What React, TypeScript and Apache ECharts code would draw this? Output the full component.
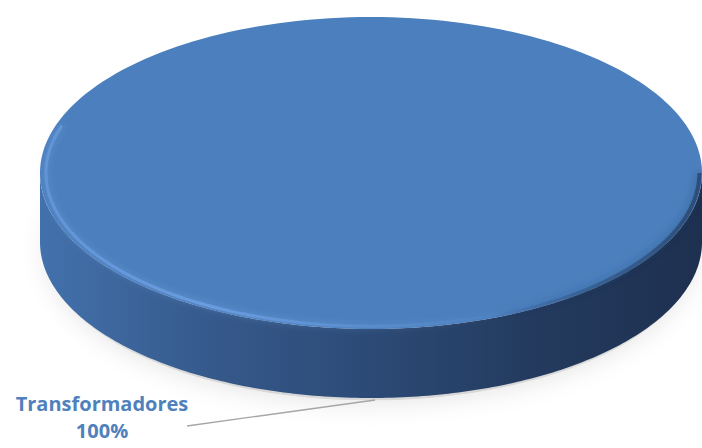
import React, { useEffect, useRef } from 'react';
import * as echarts from 'echarts';

const categories: string[] = ['Transformadores'];
const values: number[] = [100];
const labelColor = '#4f81bd';

export default function App() {
  const ref = useRef<HTMLDivElement>(null);
  useEffect(() => {
    const chart = echarts.init(ref.current as HTMLDivElement, null, { renderer: 'svg' });
    const total = values.reduce((a, b) => a + b, 0);
    const cum: number[] = [0];
    values.forEach((v) => cum.push(cum[cum.length - 1] + v));
    const TAU = Math.PI * 2;
    const CX = 371, CY = 173, RX = 331, RY = 156, D = 69;
    const pt = (t: number, dy = 0, s = 1) => [CX + RX * s * Math.sin(t), CY - RY * s * Math.cos(t) + dy];
    const arc = (a0: number, a1: number, dy = 0, s = 1, n = 200) => {
      const pts: number[][] = [];
      for (let i = 0; i <= n; i++) pts.push(pt(a0 + ((a1 - a0) * i) / n, dy, s));
      return pts;
    };

    const renderItem = (params: any, api: any) => {
      const i = params.dataIndex;
      const a0 = (cum[i] / total) * TAU;
      const a1 = (cum[i + 1] / total) * TAU;
      const full = a1 - a0 >= TAU - 1e-6;
      const children: any[] = [];
      if (i === 0) {
        children.push({
          type: 'polygon',
          shape: { points: arc(0, TAU, D + 4, 0.99) },
          style: { fill: 'rgba(150,150,150,0.3)', shadowBlur: 22, shadowColor: 'rgba(0,0,0,0.3)', shadowOffsetY: 4 },
        });
      }
      const s0 = Math.max(a0, Math.PI / 2);
      const s1 = Math.min(a1, (3 * Math.PI) / 2);
      if (s1 > s0) {
        const top = arc(s0, s1, 0);
        const bot = arc(s1, s0, D);
        children.push({
          type: 'polygon',
          shape: { points: top.concat(bot) },
          style: {
            fill: new echarts.graphic.LinearGradient(0, 0, 1, 0, [
              { offset: 0, color: '#4371ac' },
              { offset: 0.25, color: '#365a8c' },
              { offset: 0.5, color: '#2c4a76' },
              { offset: 0.72, color: '#243c60' },
              { offset: 1, color: '#1e3050' },
            ]),
          },
        });
      }
      const facePts = full ? arc(0, TAU) : [[CX, CY]].concat(arc(a0, a1));
      children.push({
        type: 'polygon',
        shape: { points: facePts },
        style: { fill: '#4b7fbd' },
      });
      // dark bevel on the lower-right rim
      const d0 = Math.max(a0, Math.PI * 0.5);
      const d1 = Math.min(a1, Math.PI * 0.88);
      if (d1 > d0) {
        children.push({
          type: 'polyline',
          shape: { points: arc(d0, d1, 0, 0.992) },
          style: {
            fill: 'none',
            lineWidth: 4,
            stroke: new echarts.graphic.LinearGradient(1, 0, 0, 0, [
              { offset: 0, color: 'rgba(35,60,100,0.7)' },
              { offset: 0.6, color: 'rgba(40,68,110,0.4)' },
              { offset: 1, color: 'rgba(40,68,110,0)' },
            ]),
            shadowBlur: 8,
            shadowColor: 'rgba(30,50,85,0.6)',
          },
        });
      }
      // bevel highlight along the front-left rim
      const h0 = Math.max(a0, Math.PI * 0.85);
      const h1 = Math.min(a1, Math.PI * 1.6);
      if (h1 > h0) {
        children.push({
          type: 'polyline',
          shape: { points: arc(h1, h0, 0, 0.982) },
          style: {
            fill: 'none',
            lineWidth: 3,
            stroke: new echarts.graphic.LinearGradient(0, 0, 1, 0, [
              { offset: 0, color: 'rgba(105,155,222,0.7)' },
              { offset: 0.35, color: 'rgba(110,160,228,0.85)' },
              { offset: 0.75, color: 'rgba(100,150,215,0.4)' },
              { offset: 1, color: 'rgba(100,150,215,0)' },
            ]),
            shadowBlur: 7,
            shadowColor: 'rgba(120,170,235,0.7)',
          },
        });
      }
      // label with leader line
      const mid = (a0 + a1) / 2;
      const anchor = pt(mid, D + 2);
      const lx = anchor[0] - 184;
      const ly = anchor[1] + 26;
      children.push({
        type: 'polyline',
        shape: { points: [[anchor[0] + 4, anchor[1]], [lx, ly]] },
        style: { fill: 'none', stroke: '#a6a6a6', lineWidth: 1.3 },
      });
      children.push({
        type: 'text',
        style: {
          text: categories[i] + '\n' + Math.round((values[i] / total) * 100) + '%',
          x: lx - 85,
          y: ly - 9,
          align: 'center',
          verticalAlign: 'middle',
          fill: labelColor,
          font: 'bold 20px "Open Sans"',
          lineHeight: 27,
        },
      });
      return { type: 'group', children };
    };

    chart.setOption({
      animation: false,
      backgroundColor: '#ffffff',
      series: [
        {
          type: 'custom',
          coordinateSystem: 'none',
          renderItem,
          data: values.map((v, i) => ({ name: categories[i], value: v })),
        },
      ],
    });
    return () => chart.dispose();
  }, []);
  return <div ref={ref} style={{ position: 'fixed', left: 0, top: 0, width: 702, height: 448 }} />;
}
